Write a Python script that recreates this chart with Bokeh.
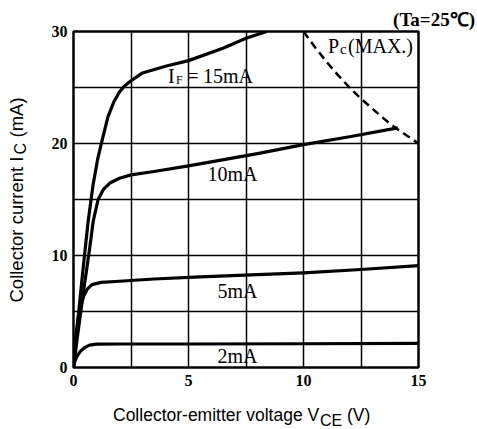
import math
from bokeh.plotting import figure
from bokeh.models import Label, FixedTicker, Range1d
from bokeh.embed import file_html
from bokeh.resources import INLINE

# ---- data ----
vce_15ma = [0, 0.2, 0.4, 0.64, 0.85, 1.05, 1.28, 1.5, 1.75, 2.0, 2.2, 2.5, 3.0, 4.0, 5.0, 6.5, 7.5, 8.4]
ic_15ma = [0, 4.4, 8.5, 13.1, 16.3, 18.6, 20.6, 22.4, 23.7, 24.6, 25.1, 25.6, 26.3, 26.9, 27.4, 28.5, 29.4, 30.0]

vce_10ma = [0, 0.2, 0.45, 0.7, 0.86, 1.07, 1.3, 1.6, 2.0, 2.5, 3.5, 5, 8, 10, 12, 14.1]
ic_10ma = [0, 3.2, 7.0, 10.6, 13.1, 15.0, 15.9, 16.5, 16.9, 17.2, 17.5, 18.0, 19.1, 19.9, 20.6, 21.4]

vce_5ma = [0, 0.1, 0.2, 0.3, 0.45, 0.6, 0.8, 1.2, 2, 3.5, 5.5, 8, 10, 12.5, 15]
ic_5ma = [0, 2.8, 4.4, 5.4, 6.4, 7.0, 7.4, 7.6, 7.7, 7.9, 8.1, 8.3, 8.45, 8.75, 9.1]

vce_2ma = [0, 0.05, 0.15, 0.3, 0.5, 0.7, 1.0, 2, 5, 10, 15]
ic_2ma = [0, 0.5, 1.0, 1.45, 1.8, 2.0, 2.08, 2.1, 2.1, 2.12, 2.15]

vce_pc = [10, 10.5, 11, 11.5, 12, 12.5, 13, 13.5, 14, 14.5, 15]
ic_pc = [30, 28.6, 27.3, 26.1, 25, 24, 23.1, 22.2, 21.4, 20.7, 20]

x_ticks = [0, 5, 10, 15]
y_ticks = [0, 10, 20, 30]
x_grid = [0, 2.5, 5, 7.5, 10, 12.5, 15]
y_grid = [0, 5, 10, 15, 20, 25, 30]

# ---- figure ----
p = figure(width=477, height=429, x_range=Range1d(0, 15), y_range=Range1d(0, 30),
           output_backend="svg", toolbar_location=None,
           min_border_left=73, min_border_right=59, min_border_top=31, min_border_bottom=62)
p.background_fill_color = "white"
p.border_fill_color = "white"
p.outline_line_color = "black"
p.outline_line_width = 2.5

for ax, ticks in ((p.xaxis, x_ticks), (p.yaxis, y_ticks)):
    ax.ticker = FixedTicker(ticks=ticks)
    ax.axis_line_color = None
    ax.major_tick_line_color = None
    ax.minor_tick_line_color = None
    ax.major_tick_out = 0
    ax.major_tick_in = 0
    ax.minor_tick_out = 0
    ax.minor_tick_in = 0
    ax.major_label_text_font = "Liberation Serif"
    ax.major_label_text_font_style = "bold"
    ax.major_label_text_font_size = "16px"
    ax.major_label_text_color = "black"
p.yaxis.major_label_standoff = 6
p.xaxis.major_label_standoff = 7

p.xgrid.ticker = FixedTicker(ticks=x_grid)
p.ygrid.ticker = FixedTicker(ticks=y_grid)
for g in (p.xgrid, p.ygrid):
    g.grid_line_color = "black"
    g.grid_line_width = 1.5

for xs, ys in ((vce_15ma, ic_15ma), (vce_10ma, ic_10ma), (vce_5ma, ic_5ma), (vce_2ma, ic_2ma)):
    p.line(xs, ys, line_color="black", line_width=3.2, line_join="round")

p.line(vce_pc, ic_pc, line_color="black", line_width=2.5, line_dash="8 5")


# ---- text ----
def px_x(px):
    return (px - 73.5) / 23.0


def px_y(py):
    return (367.0 - py) / 11.2


def lab(text, px, py, size, font="Liberation Serif", style="normal", align="left",
        angle=0, place="center"):
    lbl = Label(x=px_x(px), y=px_y(py), text=text, text_font=font,
                text_font_style=style, text_font_size=size, text_align=align,
                text_baseline="middle", text_color="black", angle=angle,
                text_line_height=0.8)
    p.add_layout(lbl, place)


# curve labels (inside the frame)
lab("I", 168, 75, "20px")
lab("F", 176, 79, "12px")
lab("=", 193, 75, "20px", align="center")
lab("15mA", 203, 75, "20px")
lab("10mA", 232.5, 173.5, "20px", align="center")
lab("5mA", 237.5, 290, "20px", align="center")
lab("2mA", 237.5, 355.5, "20px", align="center")
lab("P", 328, 45.5, "20px")
lab("c", 340, 48, "15px")
lab("(MAX.)", 348, 45.5, "20px")

# texts outside the frame (placed in side panels so they are not clipped)
lab("(Ta=25\u2103)", 475, 19, "19px", style="bold", align="right", place="above")

sans = "Liberation Sans"
lab("Collector-emitter voltage V", 113, 414.5, "17.5px", font=sans, place="below")
lab("(V)", 347, 414.5, "17.5px", font=sans, place="below")
lab("CE", 320, 420, "16px", font=sans, place="right")

lab("Collector current I", 16.5, 302, "18.5px", font=sans, angle=math.pi / 2, place="left")
lab("(mA)", 16.5, 137, "18.5px", font=sans, angle=math.pi / 2, place="left")
lab("C", 20, 154, "16px", font=sans, angle=math.pi / 2, place="right")

open("out.html", "w").write(file_html(p, INLINE))
